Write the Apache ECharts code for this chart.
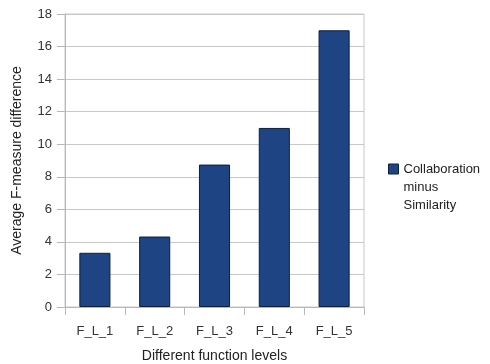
<!DOCTYPE html>
<html><head><meta charset="utf-8">
<script src="https://cdn.jsdelivr.net/npm/echarts@6/dist/echarts.min.js"></script>
<style>html,body{margin:0;padding:0;background:#fff}#c{width:490px;height:364px}</style>
</head><body><div id="c"></div>
<script>
const categories = ['F_L_1','F_L_2','F_L_3','F_L_4','F_L_5'];
const values = [3.33, 4.33, 8.75, 11.0, 17.0];
const seriesName = 'Collaboration\nminus\nSimilarity';
const yMin = 0, yMax = 18, yStep = 2;

const chart = echarts.init(document.getElementById('c'));
const font = 'Liberation Sans, Arial, sans-serif';
chart.setOption({
  animation: false,
  backgroundColor: '#fff',
  grid: {left: 65, right: 126, top: 14, bottom: 57, show: true, borderColor: '#c8c8c8', borderWidth: 1,
         outerBoundsMode: 'none', containLabel: false},
  legend: {
    left: 383, top: 119, itemWidth: 10, itemHeight: 10, itemGap: 0,
    icon: 'rect', selectedMode: false,
    itemStyle: {borderColor: '#0d1f3c', borderWidth: 1},
    formatter: name => '\n\n' + name,
    textStyle: {fontFamily: font, fontSize: 13, color: '#222', lineHeight: 18},
    data: [seriesName]
  },
  xAxis: {
    type: 'category', data: categories,
    name: 'Different function levels', nameLocation: 'middle', nameGap: 42,
    nameTextStyle: {fontFamily: font, fontSize: 14, color: '#222'},
    axisLine: {lineStyle: {color: '#b8b8b8', width: 1}},
    axisTick: {show: true, length: 8, lineStyle: {color: '#b8b8b8'}},
    axisLabel: {fontFamily: font, fontSize: 13, color: '#333', margin: 18},
    splitLine: {show: false}
  },
  yAxis: {
    type: 'value', min: yMin, max: yMax, interval: yStep,
    name: 'Average F-measure difference', nameLocation: 'middle', nameGap: 41,
    nameTextStyle: {fontFamily: font, fontSize: 14, color: '#222'},
    axisLine: {show: true, lineStyle: {color: '#b8b8b8', width: 1}},
    axisTick: {show: true, length: 8, lineStyle: {color: '#b8b8b8'}},
    axisLabel: {fontFamily: font, fontSize: 13, color: '#333', margin: 13},
    splitLine: {show: true, lineStyle: {color: '#c8c8c8', width: 1}}
  },
  series: [{
    name: seriesName, type: 'bar', data: values, barWidth: '52%',
    itemStyle: {color: '#1f4484', borderColor: '#0d1f3c', borderWidth: 1}
  }]
});
</script></body></html>
